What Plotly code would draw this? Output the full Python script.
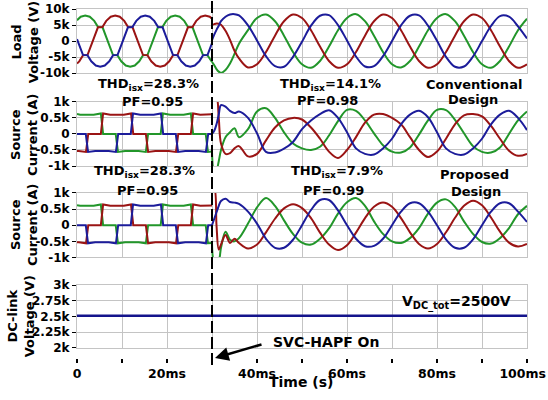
import plotly.graph_objects as go

# ---------------- data (time in ms, values in kV / kA) ----------------
T_POST = [30, 30.5, 31, 31.5, 32, 33, 34, 35, 36, 38, 40, 42, 44, 46, 48, 50, 52, 54, 56, 58, 60,
          62, 64, 66, 68, 70, 72, 74, 76, 78, 80, 82, 84, 86, 88, 90, 92, 94, 96, 98, 100]

# Panel 1: load voltage (before SVC-HAPF)
LV_RED_PRE_T = [0, 0.5, 1.35, 2.35, 3.5, 4.65, 5.65, 6.5, 7.5, 8.5, 9.5, 10.5, 11.35, 12.35, 13.5, 14.65,
                15.65, 16.5, 17.5, 18.5, 19.5, 20.5, 21.35, 22.35, 23.5, 24.65, 25.65, 26.5, 27.5, 28.5, 29.5, 30]
LV_RED_PRE = [-7.0, -6.3, -4.4, -4.3, 0, 4.3, 4.4, 6.3, 7.6, 8.0, 7.6, 6.3, 4.4, 4.3, 0, -4.3,
              -4.4, -6.3, -7.6, -8.0, -7.6, -6.3, -4.4, -4.3, 0, 4.3, 4.4, 6.3, 7.6, 8.0, 7.6, 7.0]
LV_BLUE_PRE_T = [0, 0.17, 1.32, 2.32, 3.17, 4.17, 5.17, 6.17, 7.17, 8.02, 9.02, 10.17, 11.32, 12.32, 13.17, 14.17,
                 15.17, 16.17, 17.17, 18.02, 19.02, 20.17, 21.32, 22.32, 23.17, 24.17, 25.17, 26.17, 27.17, 28.02, 29.02, 30]
LV_BLUE_PRE = [0.6, 0, -4.3, -4.4, -6.3, -7.6, -8.0, -7.6, -6.3, -4.4, -4.3, 0, 4.3, 4.4, 6.3, 7.6,
               8.0, 7.6, 6.3, 4.4, 4.3, 0, -4.3, -4.4, -6.3, -7.6, -8.0, -7.6, -6.3, -4.4, -4.3, -0.6]
LV_GREEN_PRE_T = [0, 0.83, 1.83, 2.83, 3.83, 4.68, 5.68, 6.83, 7.98, 8.98, 9.83, 10.83, 11.83, 12.83, 13.83, 14.68,
                  15.68, 16.83, 17.98, 18.98, 19.83, 20.83, 21.83, 22.83, 23.83, 24.68, 25.68, 26.83, 27.98, 28.98, 30]
LV_GREEN_PRE = [6.5, 7.6, 8.0, 7.6, 6.3, 4.4, 4.3, 0, -4.3, -4.4, -6.3, -7.6, -8.0, -7.6, -6.3, -4.4,
                -4.3, 0, 4.3, 4.4, 6.3, 7.6, 8.0, 7.6, 6.3, 4.4, 4.3, 0, -4.3, -4.4, -6.5]

# Panel 1: load voltage (after SVC-HAPF on)
LV_BLUE_POST = [0.3, 2.0, 3.5, 4.8, 6.2, 7.6, 8.3, 8.4, 8.0, 4.9, 0.2, -4.7, -7.8, -8.0, -4.9, -0.2, 4.8, 7.9, 8.1,
                5.0, 0.2, -4.8, -7.9, -7.8, -4.7, 0, 4.9, 7.9, 8.0, 4.8, 0.1, -4.9, -8.0, -7.9, -4.8, 0, 4.7, 7.8,
                7.6, 4.6, 0.8]
LV_GREEN_POST = [-6.5, -7.5, -8.7, -9.5, -9.9, -9.0, -7.0, -4.0, -0.8, 3.4, 7.2, 8.3, 6.2, 1.7, -3.4, -7.2, -8.3,
                 -6.2, -1.7, 3.4, 7.2, 8.4, 6.2, 1.7, -3.4, -7.2, -8.2, -6.2, -1.7, 3.4, 7.2, 8.4, 6.2, 1.7, -3.4,
                 -7.2, -8.3, -6.2, -1.7, 3.4, 7.0]
LV_RED_POST = [5.0, 5.3, 5.5, 5.4, 5.1, 3.2, 0.4, -3.0, -5.4, -8.2, -7.2, -3.4, 1.7, 6.2, 8.3, 7.2, 3.4, -1.7, -6.2,
               -8.3, -7.2, -3.4, 1.7, 6.2, 8.3, 7.2, 3.4, -1.7, -6.2, -8.3, -7.2, -3.4, 1.7, 6.2, 8.3, 7.2, 3.4,
               -1.7, -6.2, -8.3, -7.2]

# Panels 2 & 3: source current before SVC-HAPF (identical in both)
SC_GREEN_PRE_T = [0, 0.7, 3.7, 5.3, 5.8, 8.6, 9.1, 10.7, 13.7, 15.3, 15.8, 18.6, 19.1, 20.7, 23.7, 25.3, 25.8, 28.6, 29.1, 30]
SC_GREEN_PRE = [0.62, 0.60, 0.60, 0.64, 0, 0, -0.56, -0.53, -0.53, -0.56, 0, 0, 0.64, 0.60, 0.60, 0.64, 0, 0, -0.56, -0.55]
SC_RED_PRE_T = [0, 0.4, 2.0, 2.5, 5.3, 5.8, 7.4, 10.4, 12.0, 12.5, 15.3, 15.8, 17.4, 20.4, 22.0, 22.5, 25.3, 25.8, 27.4, 30]
SC_RED_PRE = [-0.53, -0.53, -0.56, 0, 0, 0.64, 0.60, 0.60, 0.64, 0, 0, -0.56, -0.53, -0.53, -0.56, 0, 0, 0.64, 0.60, 0.61]
SC_BLUE_PRE_T = [0, 1.95, 2.45, 4.05, 7.05, 8.65, 9.15, 11.95, 12.45, 14.05, 17.05, 18.65, 19.15, 21.95, 22.45, 24.05,
                 27.05, 28.65, 29.15, 30]
SC_BLUE_PRE = [0, 0, -0.56, -0.53, -0.53, -0.56, 0, 0, 0.64, 0.60, 0.60, 0.64, 0, 0, -0.56, -0.53, -0.53, -0.56, 0, 0]

# Panel 2: conventional design, after
CONV_BLUE_POST = [0.0, 0.1, 0.3, 0.6, 0.9, 0.85, 0.72, 0.65, 0.7, 0.5, 0.02, -0.56, -0.58, -0.46, -0.25, 0.15, 0.42,
                  0.62, 0.74, 0.5, 0.05, -0.45, -0.62, -0.64, -0.45, -0.15, 0.3, 0.6, 0.72, 0.52, 0.05, -0.45, -0.62,
                  -0.64, -0.45, -0.15, 0.3, 0.6, 0.72, 0.5, 0.12]
CONV_GREEN_POST = [-0.56, -1.15, -1.12, -0.85, -0.5, -0.1, 0.05, 0.18, -0.1, 0.15, 0.7, 0.8, 0.5, 0.05, -0.3, -0.45,
                   -0.5, -0.4, -0.05, 0.4, 0.75, 0.72, 0.42, 0.02, -0.35, -0.55, -0.58, -0.42, -0.02, 0.42, 0.75, 0.74,
                   0.44, 0.02, -0.38, -0.56, -0.58, -0.42, 0, 0.42, 0.7]
CONV_RED_POST = [1.15, 1.15, 1.15, 0.5, -0.3, -0.62, -0.6, -0.45, -0.38, -0.7, -0.62, -0.2, 0.2, 0.42, 0.5, 0.45, 0.2,
                 -0.15, -0.55, -0.75, -0.5, -0.1, 0.35, 0.6, 0.62, 0.5, 0.3, -0.1, -0.5, -0.72, -0.55, -0.15, 0.3, 0.58,
                 0.62, 0.55, 0.25, -0.15, -0.52, -0.68, -0.62]

# Panel 3: proposed design, after
PROP_BLUE_POST = [0.0, 0.2, 0.4, 0.6, 0.75, 0.82, 0.72, 0.7, 0.66, 0.42, 0.05, -0.42, -0.7, -0.7, -0.45, 0, 0.47, 0.78,
                  0.78, 0.46, 0, -0.42, -0.65, -0.64, -0.42, 0, 0.42, 0.68, 0.68, 0.42, 0, -0.44, -0.7, -0.7, -0.44, 0,
                  0.42, 0.68, 0.68, 0.42, 0.1]
PROP_GREEN_POST = [-0.55, -1.15, -1.15, -1.1, -0.7, -0.2, -0.45, -0.5, -0.4, 0.05, 0.55, 0.84, 0.6, 0.15, -0.27, -0.54,
                   -0.6, -0.42, -0.1, 0.36, 0.71, 0.84, 0.6, 0.12, -0.27, -0.5, -0.55, -0.4, -0.09, 0.36, 0.7, 0.8, 0.57,
                   0.12, -0.27, -0.52, -0.57, -0.4, -0.09, 0.34, 0.6]
PROP_RED_POST = [1.15, 1.15, 0.0, -0.75, -0.6, -0.3, -0.55, -0.42, -0.55, -0.72, -0.6, -0.22, 0.2, 0.52, 0.65, 0.53,
                 0.22, -0.23, -0.6, -0.77, -0.62, -0.23, 0.22, 0.57, 0.7, 0.57, 0.22, -0.22, -0.58, -0.72, -0.58, -0.22,
                 0.23, 0.6, 0.76, 0.62, 0.24, -0.2, -0.54, -0.66, -0.58]

# Panel 4: DC-link voltage
DC_T = [0, 30, 100]
DC_V = [2.51, 2.51, 2.51]

# tick labels
X_TICKS = [0, 10, 20, 30, 40, 50, 60, 70, 80, 90, 100]
X_TICKTEXT = ['0', '', '20ms', '', '40ms', '', '60ms', '', '80ms', '', '100ms\u00a0\u00a0']
V_TICKS = [-10, -5, 0, 5, 10]
V_TICKTEXT = ['-10k', '-5k', '0', '5k', '10k']
I_TICKS = [-1, -0.5, 0, 0.5, 1]
I_TICKTEXT = ['-1k', '-0.5k', '0', '0.5k', '1k']
DC_TICKS = [2, 2.25, 2.5, 2.75, 3]
DC_TICKTEXT = ['2k', '2.25k', '2.5k', '2.75k', '3k']

# ---------------- figure ----------------
BLUE = '#1c1c9a'
RED = '#9a1414'
GREEN = '#22962a'
GRID = '#c4c4c4'
FONT = 'DejaVu Sans'

fig = go.Figure()


def add(t, v, color, n, spline=False):
    fig.add_trace(go.Scatter(
        x=t, y=v, mode='lines',
        line=dict(color=color, width=2, shape='spline' if spline else 'linear', smoothing=1.0),
        xaxis='x' if n == 1 else f'x{n}', yaxis='y' if n == 1 else f'y{n}',
        showlegend=False, hoverinfo='skip'))


# panel 1
add(LV_GREEN_PRE_T, LV_GREEN_PRE, GREEN, 1)
add(LV_RED_PRE_T, LV_RED_PRE, RED, 1)
add(LV_BLUE_PRE_T, LV_BLUE_PRE, BLUE, 1)
add(T_POST, LV_GREEN_POST, GREEN, 1, True)
add(T_POST, LV_RED_POST, RED, 1, True)
add(T_POST, LV_BLUE_POST, BLUE, 1, True)
# panel 2
add(SC_GREEN_PRE_T, SC_GREEN_PRE, GREEN, 2)
add(SC_RED_PRE_T, SC_RED_PRE, RED, 2)
add(SC_BLUE_PRE_T, SC_BLUE_PRE, BLUE, 2)
add(T_POST, CONV_GREEN_POST, GREEN, 2, True)
add(T_POST, CONV_RED_POST, RED, 2, True)
add(T_POST, CONV_BLUE_POST, BLUE, 2, True)
# panel 3
add(SC_GREEN_PRE_T, SC_GREEN_PRE, GREEN, 3)
add(SC_RED_PRE_T, SC_RED_PRE, RED, 3)
add(SC_BLUE_PRE_T, SC_BLUE_PRE, BLUE, 3)
add(T_POST, PROP_GREEN_POST, GREEN, 3, True)
add(T_POST, PROP_RED_POST, RED, 3, True)
add(T_POST, PROP_BLUE_POST, BLUE, 3, True)
# panel 4
fig.add_trace(go.Scatter(x=DC_T, y=DC_V, mode='lines', line=dict(color='#14148c', width=2.5),
                         xaxis='x4', yaxis='y4', showlegend=False, hoverinfo='skip'))
# carrier for the bottom time axis
fig.add_trace(go.Scatter(x=DC_T, y=DC_V, mode='lines', opacity=0, line=dict(width=0.1),
                         xaxis='x5', yaxis='y4', showlegend=False, hoverinfo='skip'))

domains = {1: [0.816, 1.0], 2: [0.550, 0.734], 3: [0.288, 0.473], 4: [0.029, 0.209]}
yranges = {1: [-10, 10], 2: [-1, 1], 3: [-1, 1], 4: [2, 3]}
yticks = {1: (V_TICKS, V_TICKTEXT), 2: (I_TICKS, I_TICKTEXT), 3: (I_TICKS, I_TICKTEXT), 4: (DC_TICKS, DC_TICKTEXT)}

layout = {}
for n in range(1, 5):
    xa = 'xaxis' if n == 1 else f'xaxis{n}'
    ya = 'yaxis' if n == 1 else f'yaxis{n}'
    layout[xa] = dict(domain=[0, 1], range=[0, 100], anchor='y' if n == 1 else f'y{n}', automargin=False,
                      tickvals=X_TICKS, showticklabels=False, ticks='', showgrid=True, gridcolor=GRID,
                      gridwidth=1, showline=True, mirror=True, linecolor=GRID, linewidth=1, zeroline=False)
    layout[ya] = dict(domain=domains[n], range=yranges[n], anchor='x' if n == 1 else f'x{n}', automargin=False,
                      tickvals=yticks[n][0], ticktext=yticks[n][1], ticks='outside', ticklen=4,
                      tickcolor='black', tickwidth=1,
                      tickfont=dict(family=FONT, size=12, color='black', weight='bold'),
                      showgrid=True, gridcolor=GRID, gridwidth=1, showline=True, mirror=True,
                      linecolor=GRID, linewidth=1, zeroline=False)
layout['xaxis5'] = dict(domain=[0, 1], range=[0, 100], overlaying='x4', anchor='free', position=0,
                        side='bottom', tickvals=X_TICKS, ticktext=X_TICKTEXT, ticks='outside', ticklen=4,
                        tickcolor='black', tickwidth=1.5, showgrid=False, showline=False, zeroline=False,
                        ticklabeloverflow='allow', automargin=False,
                        tickfont=dict(family=FONT, size=12.5, color='black', weight='bold'))

fig.update_layout(width=548, height=400, margin=dict(l=77, r=21, t=9, b=42, autoexpand=False),
                  plot_bgcolor='white', paper_bgcolor='white',
                  font=dict(family=FONT, color='black'), **layout)

# switching instant
fig.add_shape(type='line', xref='x4', yref='paper', x0=30, x1=30, y0=-0.02, y1=1.03,
              line=dict(color='black', width=2, dash='12px,4px'), layer='above')


def txt(s, x, y, size=13, angle=0):
    fig.add_annotation(text=s, xref='paper', yref='paper', x=x, y=y, showarrow=False,
                       xanchor='center', yanchor='middle', textangle=angle,
                       font=dict(family=FONT, size=size, color='black', weight='bold'))


txt('THD<sub>isx</sub>=28.3%', 0.158, 0.785)
txt('PF=0.95', 0.167, 0.736)
txt('THD<sub>isx</sub>=14.1%', 0.564, 0.785)
txt('PF=0.98', 0.556, 0.739)
txt('Conventional', 0.882, 0.785)
txt('Design', 0.880, 0.742)
txt('THD<sub>isx</sub>=28.3%', 0.149, 0.533)
txt('PF=0.95', 0.156, 0.481)
txt('THD<sub>isx</sub>=7.9%', 0.578, 0.533)
txt('PF=0.99', 0.569, 0.481)
txt('Proposed', 0.884, 0.527)
txt('Design', 0.887, 0.476)
txt('V<sub>DC_tot</sub>=2500V', 0.844, 0.158, size=14)
txt('SVC-HAPF On', 0.553, 0.046, size=14)
txt('Time (s)', 0.498, -0.069, size=14)

txt('Load<br>Voltage (V)', -0.1156, 0.905, angle=-90)
txt('Source<br>Current (A)', -0.118, 0.639, angle=-90)
txt('Source<br>Current (A)', -0.118, 0.381, angle=-90)
txt('DC-link<br>Voltage (V)', -0.124, 0.120, angle=-90)

# arrow pointing at the switching instant
fig.add_annotation(text='', xref='paper', yref='paper', x=(215 - 77) / 450, y=(358 - 358) / 349,
                   ax=48, ay=-14, showarrow=True, arrowhead=2, arrowsize=1.1, arrowwidth=2.5,
                   arrowcolor='black')

fig.write_html('out.html')
